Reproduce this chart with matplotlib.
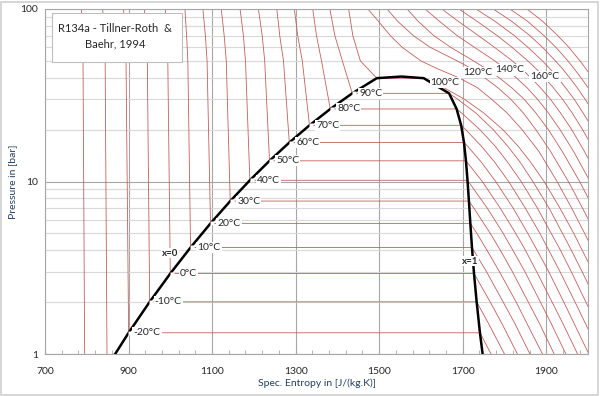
import matplotlib
matplotlib.use('Agg')
import matplotlib.pyplot as plt
import matplotlib.ticker as mticker
from matplotlib.patches import Rectangle

plt.rcParams['font.family'] = ['Lato', 'DejaVu Sans']

N = None

# saturation table (T in degC, p in bar, s in J/(kg.K))
SAT_T = [-40, -30, -20, -10, 0, 10, 20, 30, 40, 50, 60, 70, 80, 90, 100]
SAT_P = [0.5121, 0.8438, 1.3273, 2.0060, 2.9280, 4.1461, 5.7171, 7.7020,
         10.166, 13.179, 16.818, 21.168, 26.332, 32.442, 39.724]
SAT_SL = [795.6, 848.6, 900.2, 950.6, 1000.0, 1048.5, 1096.3, 1143.5,
          1190.5, 1237.5, 1284.9, 1333.2, 1383.0, 1435.6, 1494.4]
SAT_SV = [1764.3, 1751.5, 1741.3, 1733.4, 1727.1, 1722.2, 1718.3, 1714.9,
          1711.5, 1707.8, 1703.1, 1696.3, 1685.5, 1667.4, 1606.7]
CRIT_P = 40.59
CRIT_S = 1553.0

# superheated vapour branch of the subcritical isotherms
VAP_P = [1, 1.5, 2, 3, 4, 5, 7, 10, 13, 16, 20, 25, 30, 35]
VAP_S = [
    [N, N, N, N, N, N, N, N, N, N, N, N, N, N],
    [N, N, N, N, N, N, N, N, N, N, N, N, N, N],
    [1768, N, N, N, N, N, N, N, N, N, N, N, N, N],
    [1800, 1762, N, N, N, N, N, N, N, N, N, N, N, N],
    [1831, 1794, 1766, N, N, N, N, N, N, N, N, N, N, N],
    [1861, 1825, 1797, 1757, N, N, N, N, N, N, N, N, N, N],
    [1891, 1854, 1828, 1788, 1758, 1734, N, N, N, N, N, N, N, N],
    [1919, 1884, 1857, 1819, 1790, 1766, 1727, N, N, N, N, N, N, N],
    [1947, 1912, 1886, 1849, 1820, 1797, 1759, N, N, N, N, N, N, N],
    [1975, 1940, 1914, 1877, 1850, 1827, 1790, 1747, N, N, N, N, N, N],
    [2002, 1967, 1942, 1906, 1878, 1856, 1821, 1779, 1744, 1712, N, N, N, N],
    [2028, 1994, 1969, 1933, 1906, 1885, 1850, 1810, 1776, 1745, 1707, N, N, N],
    [2054, 2020, 1995, 1960, 1934, 1912, 1879, 1840, 1807, 1778, 1741, 1697, N, N],
    [2080, 2046, 2021, 1986, 1960, 1939, 1907, 1868, 1837, 1808, 1773, 1731, 1688, N],
    [2105, 2071, 2047, 2012, 1986, 1966, 1933, 1895, 1862, 1833, 1796, 1750, 1704, 1655],
]

# compressed liquid branch
LIQ_P = [50, 70, 100]
LIQ_S = [
    [791, 790, 787], [844, 842, 838], [894, 892, 888], [945, 942, 938],
    [994, 992, 988], [1042, 1039, 1035], [1088, 1084, 1078], [1134, 1129, 1122],
    [1180, 1175, 1167], [1226, 1220, 1211], [1271, 1262, 1255], [1316, 1305, 1297],
    [1362, 1350, 1341], [1412, 1394, 1382], [1455, 1437, 1427],
]

# supercritical isotherms
SUP_T = [110, 120, 130, 140, 150, 160, 170, 180, 190, 200]
SUP_P = [3, 5, 7, 10, 15, 20, 25, 30, 35, 40, 45, 50, 60, 70, 85, 100]
SUP_S = [
    [2037, 1992, 1961, 1926, 1882, 1842, 1806, 1769, 1735, 1690, 1640, 1600, 1555, 1527, 1498, 1473],
    [N, 2018, 1987, 1953, 1910, 1875, 1845, 1815, 1784, 1752, 1722, 1687, 1622, 1582, 1544, 1519],
    [N, 2043, 2013, 1980, 1938, 1905, 1875, 1847, 1817, 1787, 1757, 1726, 1671, 1631, 1593, 1567],
    [N, N, 2038, 2005, 1965, 1933, 1905, 1879, 1854, 1828, 1802, 1777, 1728, 1687, 1644, 1610],
    [N, N, N, 2030, 1991, 1961, 1934, 1910, 1886, 1863, 1841, 1819, 1776, 1738, 1689, 1650],
    [N, N, N, N, 2016, 1987, 1962, 1939, 1917, 1896, 1876, 1856, 1818, 1783, 1734, 1691],
    [N, N, N, N, 2041, 2013, 1988, 1967, 1946, 1927, 1909, 1891, 1856, 1824, 1777, 1732],
    [N, N, N, N, N, 2037, 2014, 1993, 1974, 1956, 1939, 1922, 1891, 1861, 1817, 1773],
    [N, N, N, N, N, N, N, 2018, 2000, 1983, 1967, 1952, 1923, 1895, 1855, 1813],
    [N, N, N, N, N, N, N, N, 2026, 2010, 1995, 1981, 1954, 1928, 1891, 1854],
]

# isotherm labels that are not on the two-phase lines
EXTRA_LABELS = ['100°C', '120°C', '140°C', '160°C']
EXTRA_S = [1658, 1737, 1813, 1897]
EXTRA_P = [37.7, 43.1, 44.3, 40.4]

ISO_RED = '#c0605c'
GRID_DARK = '#a6a6a6'
GRID_LIGHT = '#d9d9d9'
TEXT = '#262626'
AXIS_TEXT = '#243f60'


def pairs(ps, ss):
    return [(p, s) for p, s in zip(ps, ss) if s is not None]


fig = plt.figure(figsize=(6, 3.96), dpi=100)
ax = fig.add_axes([45 / 600, 1 - 354 / 396, 543 / 600, 345 / 396])
ax.set_yscale('log')
ax.set_xlim(700, 2000)
ax.set_ylim(1, 100)

# subcritical isotherms: vapour -> two-phase -> liquid
for i, t in enumerate(SAT_T):
    pts = pairs(VAP_P, VAP_S[i])
    pts += [(SAT_P[i], SAT_SV[i]), (SAT_P[i], SAT_SL[i])]
    pts += pairs(LIQ_P, LIQ_S[i])
    ax.plot([s for p, s in pts], [p for p, s in pts], color=ISO_RED, lw=0.6, zorder=2)

for j, t in enumerate(SUP_T):
    pts = pairs(SUP_P, SUP_S[j])
    ax.plot([s for p, s in pts], [p for p, s in pts], color=ISO_RED, lw=0.6, zorder=2)

# saturation dome
dome_s = SAT_SL + [CRIT_S] + SAT_SV[::-1]
dome_p = SAT_P + [CRIT_P] + SAT_P[::-1]
ax.plot(dome_s, dome_p, color='black', lw=1.8, zorder=3, solid_capstyle='butt')

lbl_box = dict(boxstyle='square,pad=0.1', fc='white', ec='none')
for i, t in enumerate(SAT_T):
    if -20 <= t <= 90:
        ax.plot(SAT_SL[i] + 4, SAT_P[i], marker='s', ms=3.5, mfc='white', mec='none', zorder=4)
        ax.text(SAT_SL[i] + 44, SAT_P[i], f'{t}°C', ha='center', va='center',
                fontsize=7.5, color=TEXT, bbox=lbl_box, zorder=5)
for txt, s, p in zip(EXTRA_LABELS, EXTRA_S, EXTRA_P):
    ax.text(s, p, txt, ha='center', va='center', fontsize=7.5, color=TEXT,
            bbox=lbl_box, zorder=5)

ax.text(1000, 3.85, 'x=0', ha='center', va='center', fontsize=7,
        fontweight='bold', color=TEXT, bbox=lbl_box, zorder=5)
ax.text(1717, 3.46, 'x=1', ha='center', va='center', fontsize=7,
        fontweight='bold', color=TEXT, bbox=lbl_box, zorder=5)

# axes styling
ax.xaxis.set_major_locator(mticker.FixedLocator(list(range(700, 2000, 200))))
ax.xaxis.set_minor_locator(mticker.FixedLocator(list(range(700, 2001, 40))))
ax.yaxis.set_major_locator(mticker.FixedLocator([1, 10, 100]))
ax.yaxis.set_major_formatter(mticker.FuncFormatter(lambda v, _: f'{v:g}'))
ax.yaxis.set_minor_locator(mticker.LogLocator(base=10, subs=range(2, 10)))
ax.yaxis.set_minor_formatter(mticker.NullFormatter())

ax.grid(which='major', axis='both', color=GRID_DARK, lw=0.8, zorder=0)
ax.grid(which='minor', axis='y', color=GRID_LIGHT, lw=0.8, zorder=0)
ax.set_axisbelow(True)

ax.tick_params(axis='x', which='both', direction='in', length=3, color=GRID_DARK,
               labelsize=7.5, labelcolor=TEXT, pad=9)
ax.tick_params(axis='y', which='both', length=0, labelsize=7.5, labelcolor=TEXT, pad=5)
for sp in ax.spines.values():
    sp.set_color(GRID_DARK)
    sp.set_linewidth(0.8)

ax.set_xlabel('Spec. Entropy in [J/(kg.K)]', fontsize=7.5, color=AXIS_TEXT)
ax.xaxis.set_label_coords(0.5, -(383 - 354) / 345)
ax.xaxis.label.set_va('center')
ax.set_ylabel('Pressure in [bar]', fontsize=7.5, color=AXIS_TEXT)
ax.yaxis.set_label_coords(-(45 - 13) / 543, 0.5)
ax.yaxis.label.set_va('center')

# title box
fig.add_artist(Rectangle((52 / 600, 1 - 62 / 396), 130 / 600, 49 / 396,
                         transform=fig.transFigure, fc='white', ec='#bfbfbf',
                         lw=0.8, zorder=10))
fig.text(115 / 600, 1 - 29 / 396, 'R134a - Tillner-Roth  &', ha='center', va='center',
         fontsize=8, color=TEXT, zorder=11)
fig.text(115 / 600, 1 - 44 / 396, 'Baehr, 1994', ha='center', va='center',
         fontsize=8, color=TEXT, zorder=11)

# chart border
fig.add_artist(Rectangle((0.002, 0.003), 0.995, 0.993, transform=fig.transFigure,
                         fill=False, ec='#d0d0d0', lw=1.2))

fig.savefig('out.png', dpi=100)
